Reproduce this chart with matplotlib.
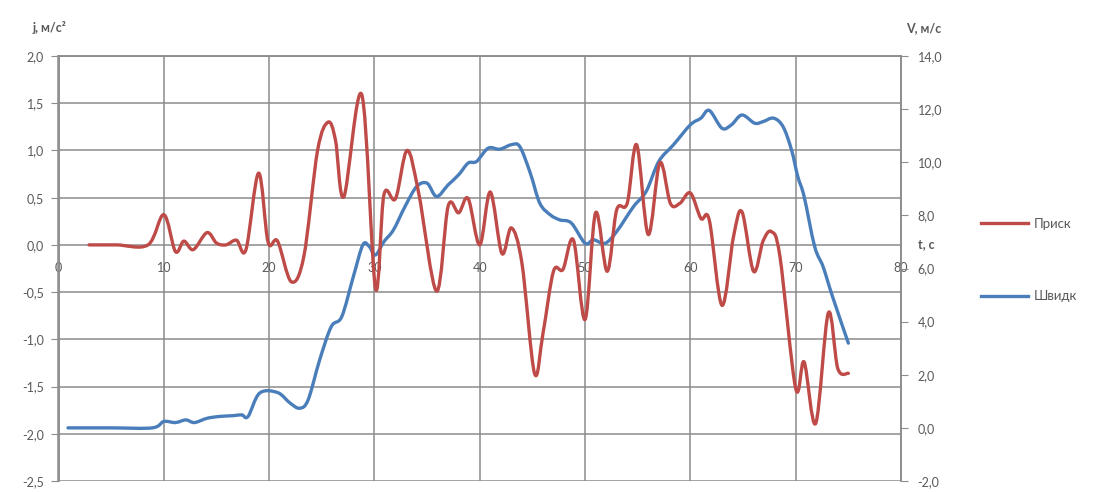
import numpy as np
import matplotlib.pyplot as plt
from matplotlib.path import Path
from matplotlib.patches import PathPatch
from matplotlib.lines import Line2D

plt.rcParams['font.family'] = ['Lato', 'DejaVu Sans']

# Acceleration j (m/s^2) against time t (s)
t_j = [2.9, 5.5, 8.5, 10.0, 11.1, 11.9, 12.8, 14.1, 15.0, 15.9, 16.9, 17.8,
       19.0, 19.9, 20.8, 22.1, 23.3, 24.6, 25.6, 26.3, 27.1, 28.8,
       30.1, 30.9, 32.0, 33.1, 34.2, 35.9, 37.0, 38.0, 38.9, 40.0,
       41.0, 42.1, 43.0, 44.0, 45.2, 46.0, 47.0, 47.9, 48.9, 50.0,
       51.0, 52.1, 53.0, 54.0, 54.9, 56.0, 57.1, 58.1, 59.0, 60.0,
       61.0, 61.8, 63.0, 64.1, 64.9, 66.0, 66.9, 67.7, 68.5, 70.0,
       70.8, 71.9, 73.1, 74.0, 75.0]
j = [0, 0, 0, 0.32, -0.07, 0.04, -0.05, 0.13, 0.02, 0.0, 0.05, -0.05,
     0.76, 0.03, 0.04, -0.39, -0.12, 1.0, 1.30, 1.11, 0.51, 1.59,
     -0.46, 0.53, 0.49, 1.0, 0.55, -0.49, 0.41, 0.34, 0.49, 0.0,
     0.56, -0.09, 0.18, -0.19, -1.36, -0.94, -0.28, -0.26, 0.05, -0.79,
     0.34, -0.28, 0.37, 0.44, 1.06, 0.11, 0.87, 0.44, 0.44, 0.55,
     0.28, 0.26, -0.64, 0.09, 0.35, -0.28, 0.04, 0.14, -0.12, -1.52,
     -1.24, -1.89, -0.72, -1.31, -1.36]

# Speed V (m/s) against time t (s)
t_v = [0.9, 5.0, 8.9, 10.0, 11.1, 12.1, 12.9, 14.1, 15.3, 16.6, 17.4,
       18.0, 19.1, 20.8, 22.0, 22.9, 23.7, 24.8, 25.9, 26.9, 28.0,
       28.9, 29.5, 30.1, 30.9, 31.8, 32.9, 34.0, 35.0, 35.9, 37.0,
       38.0, 38.9, 39.7, 40.8, 41.9, 43.0, 43.8, 44.8, 45.7, 46.7,
       47.6, 48.7, 50.0, 50.8, 51.9, 53.0, 54.6, 55.8, 57.0, 58.4,
       60.0, 61.0, 61.8, 63.0, 63.9, 64.9, 66.1, 66.9, 67.9, 68.8,
       69.6, 70.2, 70.8, 71.8, 72.6, 73.5, 75.0]
v = [0, 0, 0, 0.24, 0.2, 0.3, 0.2, 0.36, 0.43, 0.46, 0.49,
     0.43, 1.31, 1.33, 0.93, 0.74, 1.05, 2.56, 3.81, 4.19, 5.7,
     6.89, 6.83, 6.51, 7.01, 7.45, 8.33, 9.08, 9.21, 8.71, 9.15,
     9.53, 9.97, 10.03, 10.53, 10.49, 10.66, 10.59, 9.59, 8.46, 8.02,
     7.83, 7.71, 6.95, 7.08, 6.95, 7.39, 8.33, 8.9, 10.03, 10.66,
     11.41, 11.66, 11.95, 11.28, 11.41, 11.78, 11.47, 11.53, 11.66, 11.34,
     10.47, 9.46, 8.71, 6.83, 6.07, 4.94, 3.19]

t_ticks = [0, 10, 20, 30, 40, 50, 60, 70, 80]
j_ticks = [-2.5, -2.0, -1.5, -1.0, -0.5, 0.0, 0.5, 1.0, 1.5, 2.0]
v_ticks = [-2, 0, 2, 4, 6, 8, 10, 12, 14]
series_names = ['Приск', 'Швидк']

RED = '#BE4B48'
BLUE = '#4A7EBB'
GRID = '#8c8c8c'
TEXT = '#595959'


def fmt(val):
    return f"{val:.1f}".replace('.', ',')


def smooth_path(x, y):
    # cubic Bezier through every point, like a spreadsheet "smoothed line"
    pts = np.column_stack([x, y]).astype(float)
    n = len(pts)
    verts = [pts[0]]
    codes = [Path.MOVETO]
    for i in range(n - 1):
        p0 = pts[max(i - 1, 0)]
        p1 = pts[i]
        p2 = pts[i + 1]
        p3 = pts[min(i + 2, n - 1)]
        verts += [p1 + (p2 - p0) / 6, p2 - (p3 - p1) / 6, p2]
        codes += [Path.CURVE4] * 3
    return Path(verts, codes)


fig = plt.figure(figsize=(11.06, 4.92), dpi=100)
ax = fig.add_axes([58.5 / 1106, 11 / 492, 842.5 / 1106, 425 / 492])
ax2 = ax.twinx()

ax.set_xlim(0, 80)
ax.set_ylim(-2.5, 2.0)
ax2.set_ylim(-2, 14)

ax.set_xticks(t_ticks)
ax.set_xticklabels([str(t) for t in t_ticks])
ax.set_yticks(j_ticks)
ax.set_yticklabels([fmt(val) for val in j_ticks])
ax2.set_yticks(v_ticks)
ax2.set_yticklabels([fmt(val) for val in v_ticks])

ax.grid(True, color=GRID, linewidth=1.1)
ax.set_axisbelow(True)

# time axis crosses the speed axis at V = 6
ax.spines['bottom'].set_position(('data', -0.25))
ax.spines['bottom'].set_visible(False)
ax.tick_params(axis='x', length=0, pad=0, labelsize=9, labelcolor=TEXT)
for lbl in ax.get_xticklabels():
    lbl.set_va('center')

ax.tick_params(axis='y', length=5.5, pad=5, color=GRID, labelsize=9,
               labelcolor=TEXT)
ax2.tick_params(axis='y', length=5, pad=7, color=GRID, labelsize=9,
                labelcolor=TEXT)

for a in (ax, ax2):
    for side in ('left', 'right', 'top'):
        a.spines[side].set_color(GRID)
        a.spines[side].set_linewidth(1.1)
ax2.spines['bottom'].set_visible(False)

ax2.add_patch(PathPatch(smooth_path(t_v, v), facecolor='none',
                        edgecolor=BLUE, linewidth=2.4, capstyle='round',
                        joinstyle='round'))
ax2.add_patch(PathPatch(smooth_path(t_j, j), facecolor='none',
                        edgecolor=RED, linewidth=2.4, capstyle='round',
                        joinstyle='round', transform=ax.transData))

fig.text(33 / 1106, 1 - 28 / 492, 'j, м/с²', fontsize=9, fontweight='bold',
         color=TEXT, va='center', ha='left')
fig.text(906 / 1106, 1 - 28 / 492, 'V, м/с', fontsize=9, fontweight='bold',
         color=TEXT, va='center', ha='left')
fig.text(918 / 1106, 1 - 244 / 492, 't, c', fontsize=9, fontweight='bold',
         color=TEXT, va='center', ha='left')

handles = [Line2D([], [], color=RED, linewidth=2.4),
           Line2D([], [], color=BLUE, linewidth=2.4)]
fig.legend(handles, series_names, loc='center left',
           bbox_to_anchor=(974 / 1106, 1 - 260 / 492), frameon=False,
           fontsize=9.5, labelcolor=TEXT, labelspacing=4.6,
           handlelength=3.6, handletextpad=0.4, borderpad=0)

fig.savefig('out.png', dpi=100)
